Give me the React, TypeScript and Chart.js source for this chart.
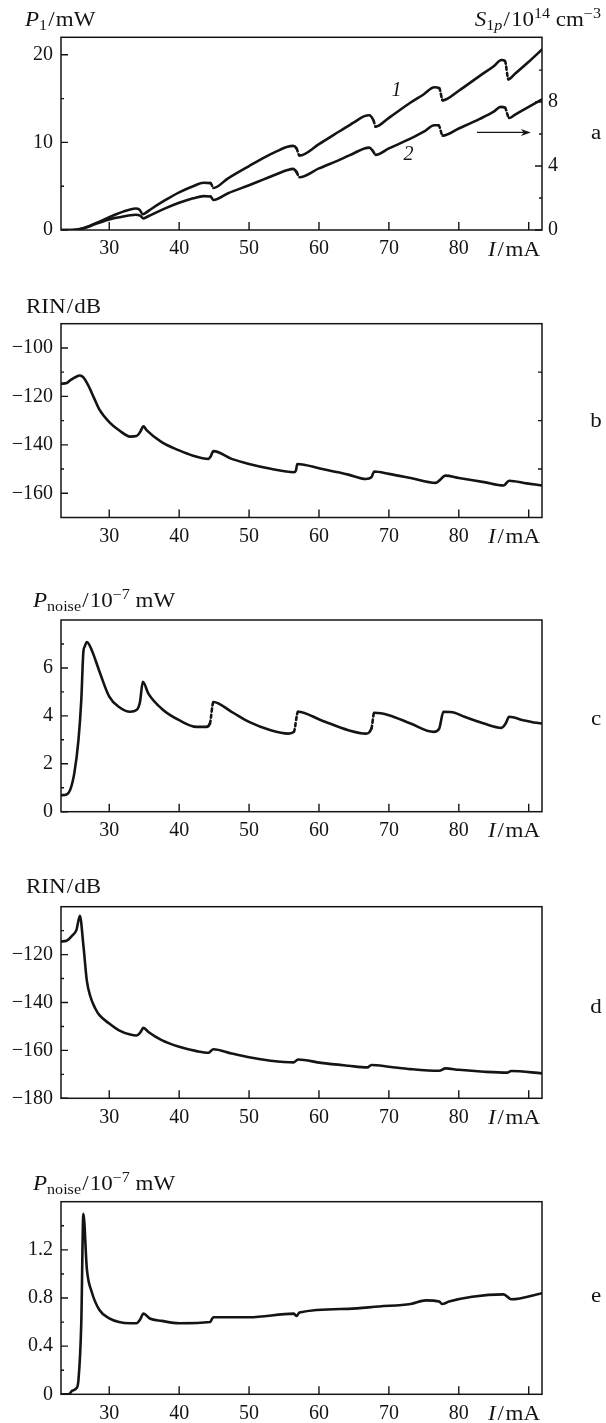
import React, { useEffect, useRef } from 'react';
import { Chart, registerables } from 'chart.js';

Chart.register(...registerables);

const FONT = '"Liberation Serif", "Times New Roman", Times, serif';
const INK = '#141414';
const W = 606;

// ---------- shared x axis ----------
const X_MIN = 23.1;
const X_MAX = 91.9;
const X_TICKS = [30, 40, 50, 60, 70, 80, 90];
const X_LABELED = [30, 40, 50, 60, 70, 80];

// ---------- panel a ----------
const A_I1 = [23.1, 24, 25, 26, 27, 28, 29, 30, 31, 32, 33, 33.8, 34.3, 34.8, 35.2, 36, 38, 40, 42, 43.5, 44.5, 44.9, 47, 50, 52, 54, 55.5, 56.3, 56.8, 57.2, 60, 63, 65, 66.5, 67.2, 67.8, 68.1, 70, 73, 75, 76.5, 77.2, 77.7, 80, 83, 85, 86.1, 86.6, 87.1, 88, 90, 91.9];
const A_P1 = [0, 0, 0.03, 0.15, 0.4, 0.75, 1.1, 1.45, 1.8, 2.1, 2.35, 2.45, 2.35, 1.8, 1.95, 2.4, 3.4, 4.3, 5.0, 5.4, 5.35, 4.8, 5.9, 7.3, 8.2, 9.0, 9.5, 9.6, 9.3, 8.5, 9.8, 11.3, 12.3, 13.0, 13.1, 12.5, 11.8, 12.8, 14.5, 15.5, 16.3, 16.2, 14.8, 15.9, 17.6, 18.7, 19.4, 19.3, 17.2, 17.8, 19.2, 20.6];
const A_I2 = [23.1, 25, 26, 27, 28, 29, 30, 31, 32, 33, 33.8, 34.4, 34.9, 35.3, 36, 38, 40, 42, 43.5, 44.5, 44.9, 47, 50, 52, 54, 55.5, 56.3, 56.8, 57.2, 60, 63, 65, 66.5, 67.2, 67.7, 68.1, 70, 73, 75, 76.5, 77.1, 77.7, 80, 83, 85, 86, 86.6, 87.2, 88, 90, 91.9];
const A_S2 = [0, 0, 0.07, 0.2, 0.38, 0.52, 0.65, 0.76, 0.85, 0.92, 0.95, 0.9, 0.72, 0.8, 0.95, 1.35, 1.7, 1.98, 2.12, 2.1, 1.88, 2.3, 2.8, 3.15, 3.5, 3.75, 3.82, 3.62, 3.3, 3.85, 4.4, 4.8, 5.1, 5.15, 4.95, 4.7, 5.1, 5.7, 6.15, 6.55, 6.55, 5.9, 6.35, 6.95, 7.4, 7.7, 7.65, 7.0, 7.2, 7.7, 8.16];
const A1_JUMPS = [44.9, 57.2, 68.1, 77.7, 87.1];
const A2_JUMPS = [44.9, 57.2, 68.1, 77.7, 87.2];
const A_Y_TICKS = [0, 5, 10, 15, 20];
const A_Y_LABELED = [0, 10, 20];
const A_Y1_TICKS = [0, 2, 4, 6, 8, 10];
const A_Y1_LABELED = [0, 4, 8];

// ---------- panel b ----------
const B_I = [23.1, 23.9, 24.4, 25.2, 25.8, 26.3, 27, 27.8, 28.6, 30, 31.4, 33, 33.9, 34.4, 34.9, 35.3, 37.5, 40, 41.9, 44.2, 44.5, 44.9, 47.5, 50, 53.1, 56.4, 56.7, 56.9, 60.3, 64.2, 66.7, 67.5, 67.9, 70, 73.1, 76.7, 77.2, 78.1, 80, 83.6, 86.4, 87.2, 89.7, 91.9];
const B_RIN = [-114.8, -114.5, -113.4, -112, -111.4, -112.2, -115.5, -120.5, -125.5, -130.6, -134, -136.6, -136.4, -134.8, -132.4, -133.8, -138.9, -142.3, -144.4, -145.8, -144.8, -142.6, -145.8, -147.9, -149.9, -151.3, -150.6, -147.9, -149.9, -152.3, -154.1, -153.4, -151, -152, -153.7, -155.7, -154.8, -152.7, -153.7, -155.4, -156.8, -154.8, -155.9, -156.8];
const B_Y_TICKS = [-160, -150, -140, -130, -120, -110, -100];
const B_Y_LABELED = [-100, -120, -140, -160];
const B_RIGHT_TICKS = [-150, -130, -110];

// ---------- panel c ----------
const C_I = [23.1, 23.9, 24.4, 25, 25.6, 26, 26.3, 26.5, 26.8, 27.5, 28.6, 30, 31.4, 33, 33.9, 34.4, 34.8, 35.6, 37.5, 40, 42.5, 43.9, 44.4, 44.9, 47.5, 50, 53.1, 55.6, 56.4, 57, 60.3, 64.2, 66.7, 67.5, 67.9, 70, 73.1, 76.4, 77.2, 77.8, 79.4, 80.8, 83.6, 86.1, 86.7, 87.2, 89.2, 91.1, 91.9];
const C_P = [0.69, 0.72, 0.9, 1.6, 3.0, 4.65, 6.67, 6.9, 7.08, 6.74, 5.85, 4.8, 4.37, 4.17, 4.24, 4.58, 5.42, 4.93, 4.3, 3.82, 3.54, 3.54, 3.68, 4.58, 4.17, 3.75, 3.4, 3.26, 3.33, 4.17, 3.82, 3.4, 3.26, 3.47, 4.13, 4.03, 3.68, 3.33, 3.47, 4.17, 4.13, 3.96, 3.68, 3.5, 3.68, 3.96, 3.82, 3.71, 3.68];
const C_JUMPS = [44.9, 57, 67.9];
const C_Y_TICKS = [0, 1, 2, 3, 4, 5, 6, 7];
const C_Y_LABELED = [0, 2, 4, 6];

// ---------- panel d ----------
const D_I = [23.1, 23.9, 24.7, 25.3, 25.8, 26.3, 26.8, 27.3, 28, 28.6, 30, 31.4, 33, 33.9, 34.4, 34.9, 35.6, 37.5, 40, 42.5, 44.2, 44.9, 47.5, 50, 53.1, 56.4, 57, 60.3, 64.2, 66.9, 67.5, 70, 73.1, 77.2, 78.1, 80, 83.6, 86.9, 87.5, 91.9];
const D_RIN = [-114.5, -114.2, -112.1, -109.8, -103.8, -116, -131, -137.5, -142.5, -145.3, -148.8, -151.6, -153.4, -153.8, -152.7, -150.6, -152.3, -155.7, -158.5, -160.3, -161, -159.5, -161.3, -162.9, -164.3, -165, -163.8, -165.2, -166.4, -167.1, -166.1, -166.8, -167.8, -168.5, -167.5, -168.1, -168.9, -169.3, -168.6, -169.6];
const D_Y_TICKS = [-180, -170, -160, -150, -140, -130, -120, -110];
const D_Y_LABELED = [-120, -140, -160, -180];

// ---------- panel e ----------
const E_I = [23.1, 24.2, 24.7, 25.3, 25.6, 26, 26.3, 26.8, 27.5, 28.6, 30, 31.4, 33, 33.9, 34.4, 34.9, 35.8, 37.5, 40, 44.4, 44.9, 50, 56.4, 56.8, 57.2, 64.2, 68.6, 73.1, 75.3, 77.2, 77.6, 78.6, 81.9, 86.4, 87.5, 91.9];
const E_P = [0, 0, 0.03, 0.05, 0.12, 0.59, 1.5, 1.04, 0.85, 0.7, 0.63, 0.6, 0.59, 0.59, 0.62, 0.67, 0.63, 0.61, 0.59, 0.6, 0.64, 0.64, 0.67, 0.65, 0.68, 0.71, 0.73, 0.75, 0.78, 0.77, 0.75, 0.77, 0.81, 0.83, 0.79, 0.84];
const E_Y_TICKS = [0, 0.2, 0.4, 0.6, 0.8, 1.0, 1.2, 1.4];
const E_Y_LABELED = [0, 0.4, 0.8, 1.2];

// ---------- text helpers ----------
type Part = { t: string; i?: boolean; s?: number; dy?: number; dx?: number };
type TextItem = { x: number; y: number; parts: Part[]; align?: 'left' | 'right' | 'center' };

const STRETCH = 1.15;
const BASE_SIZE = 20;
const fontOf = (p: Part) => `${p.i ? 'italic ' : ''}${p.s ?? BASE_SIZE}px ${FONT}`;

function drawRich(ctx: CanvasRenderingContext2D, item: TextItem, offY: number) {
  ctx.save();
  ctx.fillStyle = INK;
  ctx.textBaseline = 'alphabetic';
  ctx.textAlign = 'left';
  let w = 0;
  for (const p of item.parts) {
    ctx.font = fontOf(p);
    w += ctx.measureText(p.t).width + (p.dx ?? 0);
  }
  w *= STRETCH;
  let x0 = item.x;
  if (item.align === 'right') x0 -= w;
  else if (item.align === 'center') x0 -= w / 2;
  ctx.translate(x0, item.y - offY);
  ctx.scale(STRETCH, 1);
  let cx = 0;
  for (const p of item.parts) {
    ctx.font = fontOf(p);
    ctx.fillText(p.t, cx, p.dy ?? 0);
    cx += ctx.measureText(p.t).width + (p.dx ?? 0);
  }
  ctx.restore();
}

const fmt = (v: number) => (v < 0 ? '\u2212' + Math.abs(v) : String(v));

const T_P1: Part[] = [{ t: 'P', i: true }, { t: '1', s: 14, dy: 4, dx: 1 }, { t: '/', dx: 1 }, { t: 'mW' }];
const T_S: Part[] = [
  { t: 'S', i: true }, { t: '1', s: 14, dy: 4 }, { t: 'p', i: true, s: 14, dy: 4, dx: 1 },
  { t: '/', dx: 1 }, { t: '10' }, { t: '14', s: 14, dy: -8 }, { t: ' cm' }, { t: '\u22123', s: 14, dy: -8 },
];
const T_RIN: Part[] = [{ t: 'RIN', dx: 1 }, { t: '/', dx: 1 }, { t: 'dB' }];
const T_PN: Part[] = [
  { t: 'P', i: true }, { t: 'noise', s: 14, dy: 4, dx: 1 }, { t: '/', dx: 1 }, { t: '10' },
  { t: '\u22127', s: 14, dy: -8 }, { t: ' mW' },
];
const T_I: Part[] = [{ t: 'I', i: true, dx: 1.5 }, { t: '/', dx: 1.5 }, { t: 'mA' }];

// ---------- panels ----------
type Series = { xs: number[]; ys: number[]; axis: 'y' | 'y1'; jumps?: number[] };
interface PanelSpec {
  top: number; height: number; plotTop: number; plotBottom: number;
  yMin: number; yMax: number; yTicks: number[]; yLabeled: number[];
  y1?: { min: number; max: number; ticks: number[]; labeled: number[] };
  rightTicks?: number[];
  series: Series[];
  texts: TextItem[];
  extra?: (chart: any) => void;
}

const PLOT_LEFT = 61;
const PLOT_RIGHT = 542;
const X_AXIS_H = 28;
const LETTER_X = 596;

const xTitle = (plotBottom: number): TextItem => ({ x: 540, y: plotBottom + 25.5, parts: T_I, align: 'right' });

function drawPanelA(chart: any) {
  const ctx = chart.ctx as CanvasRenderingContext2D;
  const x = chart.scales.x, y = chart.scales.y, y1 = chart.scales.y1;
  ctx.save();
  ctx.fillStyle = INK;
  ctx.font = `italic ${BASE_SIZE}px ${FONT}`;
  ctx.textAlign = 'center';
  ctx.textBaseline = 'middle';
  ctx.fillText('1', x.getPixelForValue(71.1), y.getPixelForValue(15.9));
  ctx.fillText('2', x.getPixelForValue(72.8), y1.getPixelForValue(4.7));
  const ay = y1.getPixelForValue(6.1);
  const ax0 = x.getPixelForValue(82.6), ax1 = x.getPixelForValue(90.3);
  ctx.strokeStyle = INK;
  ctx.lineWidth = 1.2;
  ctx.beginPath();
  ctx.moveTo(ax0, ay);
  ctx.lineTo(ax1 - 6, ay);
  ctx.stroke();
  ctx.beginPath();
  ctx.moveTo(ax1, ay);
  ctx.lineTo(ax1 - 10, ay - 3.5);
  ctx.lineTo(ax1 - 7, ay);
  ctx.lineTo(ax1 - 10, ay + 3.5);
  ctx.closePath();
  ctx.fill();
  ctx.restore();
}

const PANELS: PanelSpec[] = [
  {
    top: 0, height: 275, plotTop: 37.3, plotBottom: 230,
    yMin: 0, yMax: 22, yTicks: A_Y_TICKS, yLabeled: A_Y_LABELED,
    y1: { min: 0, max: 12.05, ticks: A_Y1_TICKS, labeled: A_Y1_LABELED },
    series: [
      { xs: A_I1, ys: A_P1, axis: 'y', jumps: A1_JUMPS },
      { xs: A_I2, ys: A_S2, axis: 'y1', jumps: A2_JUMPS },
    ],
    texts: [
      { x: 25, y: 26, parts: T_P1 },
      { x: 601, y: 26, parts: T_S, align: 'right' },
      xTitle(230),
      { x: LETTER_X, y: 139, parts: [{ t: 'a' }], align: 'center' },
    ],
    extra: drawPanelA,
  },
  {
    top: 280, height: 280, plotTop: 323.7, plotBottom: 517.5,
    yMin: -170, yMax: -90, yTicks: B_Y_TICKS, yLabeled: B_Y_LABELED,
    rightTicks: B_RIGHT_TICKS,
    series: [{ xs: B_I, ys: B_RIN, axis: 'y' }],
    texts: [
      { x: 26, y: 312.7, parts: T_RIN },
      xTitle(517.5),
      { x: LETTER_X, y: 427, parts: [{ t: 'b' }], align: 'center' },
    ],
  },
  {
    top: 565, height: 285, plotTop: 620, plotBottom: 811.7,
    yMin: 0, yMax: 8, yTicks: C_Y_TICKS, yLabeled: C_Y_LABELED,
    series: [{ xs: C_I, ys: C_P, axis: 'y', jumps: C_JUMPS }],
    texts: [
      { x: 33, y: 606.7, parts: T_PN },
      xTitle(811.7),
      { x: LETTER_X, y: 725, parts: [{ t: 'c' }], align: 'center' },
    ],
  },
  {
    top: 855, height: 290, plotTop: 906.7, plotBottom: 1098.3,
    yMin: -180, yMax: -100, yTicks: D_Y_TICKS, yLabeled: D_Y_LABELED,
    series: [{ xs: D_I, ys: D_RIN, axis: 'y' }],
    texts: [
      { x: 26, y: 893.3, parts: T_RIN },
      xTitle(1098.3),
      { x: LETTER_X, y: 1013, parts: [{ t: 'd' }], align: 'center' },
    ],
  },
  {
    top: 1150, height: 273, plotTop: 1201.7, plotBottom: 1394.3,
    yMin: 0, yMax: 1.6, yTicks: E_Y_TICKS, yLabeled: E_Y_LABELED,
    series: [{ xs: E_I, ys: E_P, axis: 'y' }],
    texts: [
      { x: 33, y: 1190, parts: T_PN },
      xTitle(1394.3),
      { x: LETTER_X, y: 1302, parts: [{ t: 'e' }], align: 'center' },
    ],
  },
];

function buildConfig(spec: PanelSpec): any {
  const tickFont = { family: FONT, size: BASE_SIZE };
  const baseAxis = {
    grid: { display: false, drawTicks: false },
    border: { display: false },
  };
  const scales: any = {
    x: {
      ...baseAxis,
      type: 'linear', position: 'bottom', min: X_MIN, max: X_MAX,
      afterBuildTicks: (s: any) => { s.ticks = X_TICKS.map((v) => ({ value: v })); },
      afterFit: (s: any) => { s.height = X_AXIS_H; s.paddingLeft = 0; s.paddingRight = 0; },
      ticks: {
        autoSkip: false, maxRotation: 0, minRotation: 0, padding: 7, color: INK, font: tickFont,
        callback: (v: number) => (X_LABELED.includes(v) ? String(v) : ''),
      },
    },
    y: {
      ...baseAxis,
      type: 'linear', position: 'left', min: spec.yMin, max: spec.yMax,
      afterBuildTicks: (s: any) => { s.ticks = spec.yTicks.map((v) => ({ value: v })); },
      afterFit: (s: any) => { s.width = PLOT_LEFT; s.paddingTop = 0; s.paddingBottom = 0; },
      ticks: {
        autoSkip: false, padding: 8, color: INK, font: tickFont,
        callback: (v: number) => (spec.yLabeled.includes(v) ? fmt(v) : ''),
      },
    },
  };
  if (spec.y1) {
    const y1 = spec.y1;
    scales.y1 = {
      ...baseAxis,
      type: 'linear', position: 'right', min: y1.min, max: y1.max,
      afterBuildTicks: (s: any) => { s.ticks = y1.ticks.map((v) => ({ value: v })); },
      afterFit: (s: any) => { s.width = W - PLOT_RIGHT; s.paddingTop = 0; s.paddingBottom = 0; },
      ticks: {
        autoSkip: false, padding: 6, color: INK, font: tickFont,
        callback: (v: number) => (y1.labeled.includes(v) ? fmt(v) : ''),
      },
    };
  }

  const decor = {
    id: 'decor',
    afterDraw(chart: any) {
      const ctx = chart.ctx as CanvasRenderingContext2D;
      const a = chart.chartArea;
      const xs = chart.scales.x, ys = chart.scales.y;
      ctx.save();
      ctx.strokeStyle = INK;
      ctx.lineWidth = 1.5;
      ctx.strokeRect(a.left, a.top, a.right - a.left, a.bottom - a.top);
      ctx.lineWidth = 1.4;
      ctx.beginPath();
      for (const v of X_TICKS) {
        const px = xs.getPixelForValue(v);
        ctx.moveTo(px, a.bottom);
        ctx.lineTo(px, a.bottom - 8);
      }
      for (const v of spec.yTicks) {
        const py = ys.getPixelForValue(v);
        const len = spec.yLabeled.includes(v) ? 7 : 3;
        ctx.moveTo(a.left, py);
        ctx.lineTo(a.left + len, py);
      }
      if (spec.y1) {
        const y1s = chart.scales.y1;
        for (const v of spec.y1.ticks) {
          const py = y1s.getPixelForValue(v);
          const len = spec.y1.labeled.includes(v) ? 7 : 3;
          ctx.moveTo(a.right, py);
          ctx.lineTo(a.right - len, py);
        }
      }
      if (spec.rightTicks) {
        for (const v of spec.rightTicks) {
          const py = ys.getPixelForValue(v);
          ctx.moveTo(a.right, py);
          ctx.lineTo(a.right - 4, py);
        }
      }
      ctx.stroke();
      ctx.restore();
      for (const t of spec.texts) drawRich(ctx, t, spec.top);
      if (spec.extra) spec.extra(chart);
    },
  };

  const plotBottomLocal = spec.plotBottom - spec.top;
  return {
    type: 'line',
    data: {
      datasets: spec.series.map((s) => ({
        data: s.xs.map((x, i) => ({ x, y: s.ys[i] })),
        yAxisID: s.axis,
        borderColor: INK,
        borderWidth: 2.6,
        pointRadius: 0,
        fill: false,
        cubicInterpolationMode: 'monotone',
        borderCapStyle: 'round',
        borderJoinStyle: 'round',
        segment: {
          borderDash: (c: any) => (s.jumps && s.jumps.includes(s.xs[c.p1DataIndex]) ? [3, 3] : undefined),
        },
      })),
    },
    options: {
      animation: false,
      responsive: false,
      maintainAspectRatio: false,
      events: [],
      layout: {
        padding: {
          left: 0,
          right: spec.y1 ? 0 : W - PLOT_RIGHT,
          top: spec.plotTop - spec.top,
          bottom: spec.height - plotBottomLocal - X_AXIS_H,
        },
      },
      plugins: { legend: { display: false }, tooltip: { enabled: false } },
      scales,
    },
    plugins: [decor],
  };
}

function Panel({ spec }: { spec: PanelSpec }) {
  const ref = useRef<HTMLCanvasElement>(null);
  useEffect(() => {
    if (!ref.current) return;
    const chart = new Chart(ref.current, buildConfig(spec));
    return () => chart.destroy();
  }, [spec]);
  return (
    <canvas
      ref={ref}
      width={W}
      height={spec.height}
      style={{ position: 'absolute', left: 0, top: spec.top, width: W, height: spec.height }}
    />
  );
}

export default function App() {
  return (
    <div style={{ position: 'absolute', left: 0, top: 0, width: W, height: 1423, background: '#fff' }}>
      {PANELS.map((p, i) => (
        <Panel key={i} spec={p} />
      ))}
    </div>
  );
}
